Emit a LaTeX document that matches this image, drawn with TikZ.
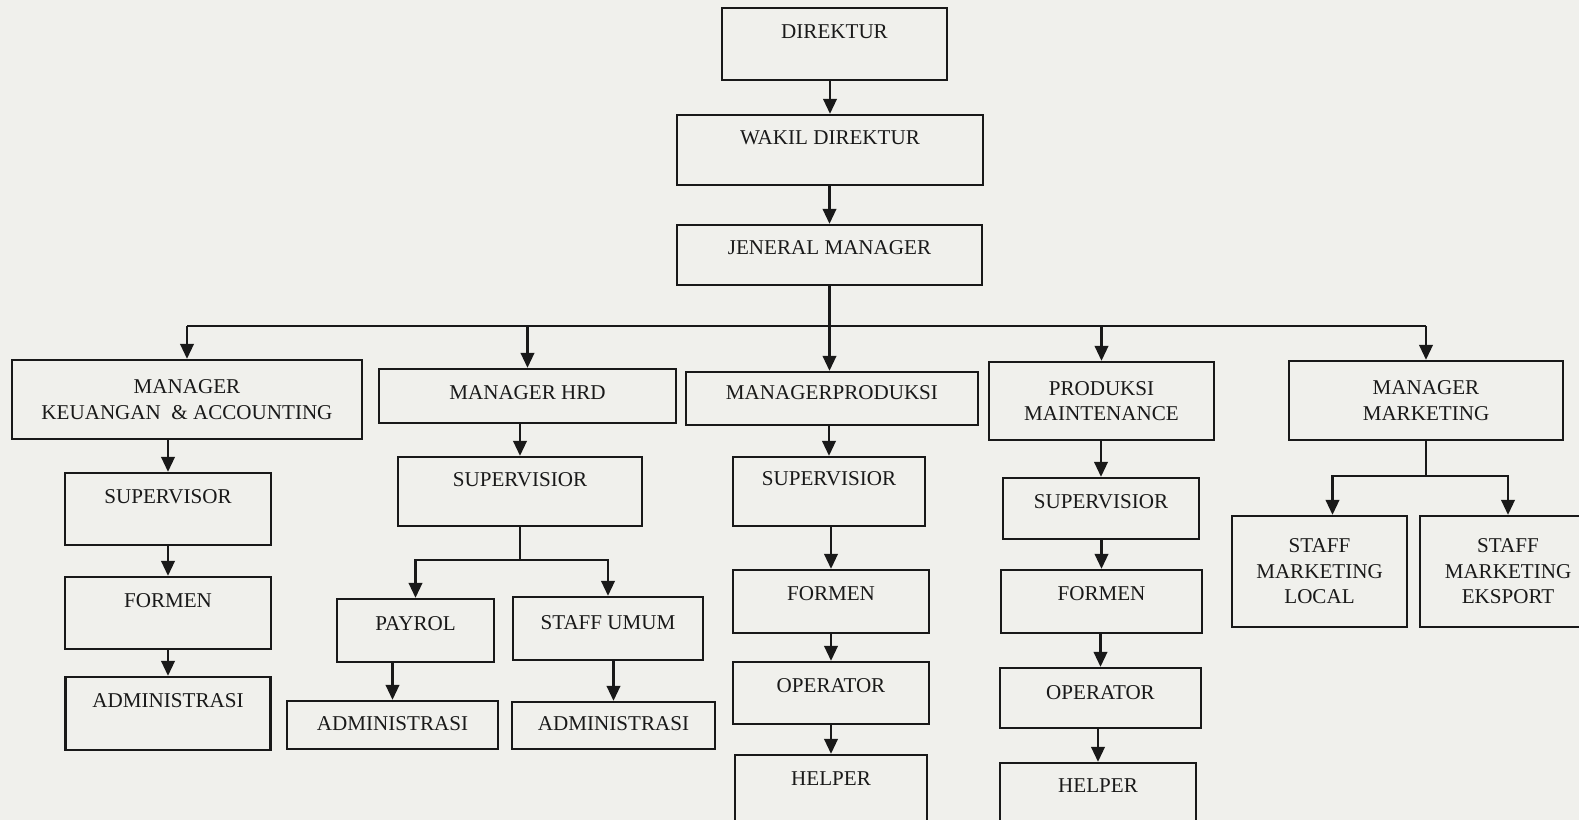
\documentclass[tikz,border=0pt]{standalone}
\usepackage{fontspec}
\setmainfont{Liberation Serif}
\usepackage{tikz}
\usetikzlibrary{arrows.meta}
\usetikzlibrary{positioning}

\definecolor{paper}{RGB}{240,240,236}
\definecolor{ink}{RGB}{25,25,25}

\tikzset{
    box/.style={draw=ink, line width=1.3pt, inner sep=0pt, align=center, text=ink,
        font=\fontsize{12}{14.5}\selectfont},
    arr/.style={draw=ink, line width=1.3pt, -{Triangle[width=0.27cm,length=0.3cm]}},
    wire/.style={draw=ink, line width=1.3pt}
}

\begin{document}
\begin{tikzpicture}[x=0.02cm, y=-0.02cm]
            \fill[paper] (0,0) rectangle (1579,820);
            \useasboundingbox (0,0) rectangle (1579,820);

            % top of the chart
            \node[box, minimum width=4.50cm, minimum height=1.44cm, text height=0.62cm, text depth=0.82cm] (dir) at (834.5,44) {DIREKTUR};
            \node[box, minimum width=6.12cm, minimum height=1.40cm, text height=0.60cm, text depth=0.80cm] (wakil) at (830,150) {WAKIL DIREKTUR};
            \node[box, minimum width=6.10cm, minimum height=1.20cm, text height=0.60cm, text depth=0.60cm] (jm) at (829.5,255) {JENERAL MANAGER};

            % managers
            \node[box, minimum width=7.00cm, minimum height=1.58cm] (mk) at (187,399.5) {MANAGER\\KEUANGAN\ \ \& ACCOUNTING};
            \node[box, minimum width=5.94cm, minimum height=1.08cm, text height=0.62cm, text depth=0.46cm] (hrd) at (527.5,396) {MANAGER HRD};
            \node[box, minimum width=5.84cm, minimum height=1.06cm, text height=0.56cm, text depth=0.50cm] (mp) at (832,398.5) {MANAGERPRODUKSI};
            \node[box, minimum width=4.50cm, minimum height=1.56cm] (pm) at (1101.5,401) {PRODUKSI\\MAINTENANCE};
            \node[box, minimum width=5.48cm, minimum height=1.58cm] (mm) at (1426,400.5) {MANAGER\\MARKETING};

            % keuangan
            \node[box, minimum width=4.12cm, minimum height=1.44cm, text height=0.62cm, text depth=0.82cm] (mksup) at (168,509) {SUPERVISOR};
            \node[box, minimum width=4.12cm, minimum height=1.44cm, text height=0.60cm, text depth=0.84cm] (mkfor) at (168,613) {FORMEN};
            \node[box, minimum width=4.10cm, minimum height=1.46cm, text height=0.60cm, text depth=0.86cm] (mkadm) at (168,713.5) {ADMINISTRASI};

            % hrd
            \node[box, minimum width=4.88cm, minimum height=1.38cm, text height=0.60cm, text depth=0.78cm] (hrdsup) at (520,491.5) {SUPERVISIOR};
            \node[box, minimum width=3.14cm, minimum height=1.26cm, text height=0.62cm, text depth=0.64cm] (pay) at (415.5,630.5) {PAYROL};
            \node[box, minimum width=3.80cm, minimum height=1.26cm, text height=0.64cm, text depth=0.62cm] (umum) at (608,628.5) {STAFF UMUM};
            \node[box, minimum width=4.22cm, minimum height=0.96cm, text height=0.60cm, text depth=0.36cm] (payadm) at (392.5,725) {ADMINISTRASI};
            \node[box, minimum width=4.06cm, minimum height=0.94cm, text height=0.58cm, text depth=0.36cm] (umumadm) at (613.5,725.5) {ADMINISTRASI};

            % produksi
            \node[box, minimum width=3.84cm, minimum height=1.38cm, text height=0.58cm, text depth=0.80cm] (mpsup) at (829,491.5) {SUPERVISIOR};
            \node[box, minimum width=3.92cm, minimum height=1.26cm, text height=0.60cm, text depth=0.66cm] (mpfor) at (831,601.5) {FORMEN};
            \node[box, minimum width=3.92cm, minimum height=1.24cm, text height=0.60cm, text depth=0.64cm] (mpop) at (831,693) {OPERATOR};
            \node[box, minimum width=3.84cm, minimum height=1.50cm, text height=0.60cm, text depth=0.90cm] (mphelp) at (831,792.5) {HELPER};

            % maintenance
            \node[box, minimum width=3.92cm, minimum height=1.22cm, text height=0.62cm, text depth=0.60cm] (pmsup) at (1101,508.5) {SUPERVISIOR};
            \node[box, minimum width=4.02cm, minimum height=1.26cm, text height=0.60cm, text depth=0.66cm] (pmfor) at (1101.5,601.5) {FORMEN};
            \node[box, minimum width=4.02cm, minimum height=1.20cm, text height=0.62cm, text depth=0.58cm] (pmop) at (1100.5,698) {OPERATOR};
            \node[box, minimum width=3.92cm, minimum height=1.54cm, text height=0.58cm, text depth=0.96cm] (pmhelp) at (1098,801.5) {HELPER};

            % marketing
            \node[box, minimum width=3.50cm, minimum height=2.22cm] (mloc) at (1319.5,571.5) {STAFF\\MARKETING\\LOCAL};
            \node[box, minimum width=3.52cm, minimum height=2.22cm] (mexp) at (1508,571.5) {STAFF\\MARKETING\\EKSPORT};

            \draw[arr] (dir.south -| wakil) -- (wakil.north);
            \draw[arr] (wakil.south -| jm) -- (jm.north);
            \draw[arr] (jm.south) -- (jm.south |- mp.north);

            \path (jm.south) ++(0,40) coordinate (bus);
            \draw[wire] (mk.north |- bus) -- (mm.north |- bus);
            \foreach \n in {mk,hrd,pm,mm}
                \draw[arr] (\n.north |- bus) -- (\n.north);

            \foreach \a/\b in {mk/mksup, mksup/mkfor, mkfor/mkadm, hrd/hrdsup, pay/payadm, umum/umumadm,
                               mp/mpsup, mpsup/mpfor, mpfor/mpop, mpop/mphelp,
                               pm/pmsup, pmsup/pmfor, pmfor/pmop, pmop/pmhelp}
                \draw[arr] (\b.north |- \a.south) -- (\b.north);

            \draw[arr] (hrdsup.south) -- ++(0,33) -| (pay.north);
            \draw[arr] (hrdsup.south) ++(0,33) -| (umum.north);
            \draw[arr] (mm.south) -- ++(0,35) -| ([xshift=0.26cm]mloc.north);
            \draw[arr] (mm.south) ++(0,35) -| (mexp.north);
        \end{tikzpicture}
\end{document}
